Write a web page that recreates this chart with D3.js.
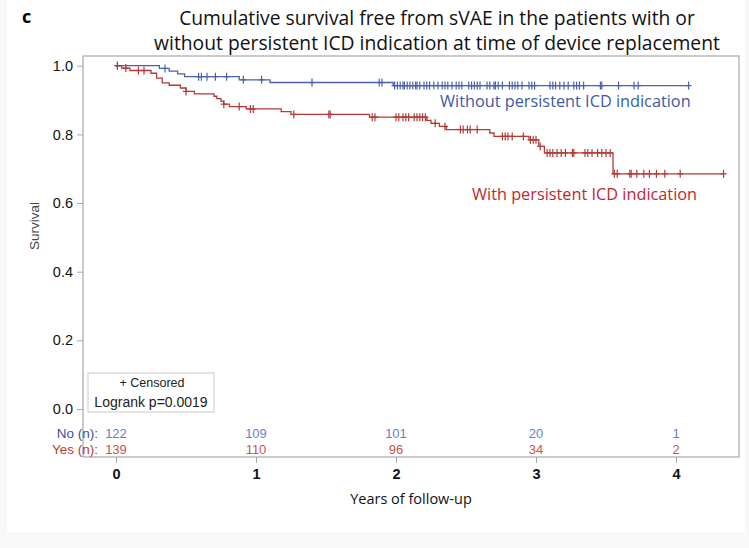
<!DOCTYPE html>
<html>
<head>
<meta charset="utf-8">
<script src="https://cdn.jsdelivr.net/npm/d3@7"></script>
<style>
  body { margin: 0; background: #f8f8f8; }
  svg { display: block; }
</style>
</head>
<body>
<div id="chart"></div>
<script>
// tick labels
var years = [0, 1, 2, 3, 4];
var survTicks = [0, 0.2, 0.4, 0.6, 0.8, 1.0];

// without persistent ICD indication (No)
var noEventTimes = [0.31, 0.38, 0.44, 0.49, 0.88, 1.10, 1.98];
var noSurv       = [0.992, 0.984, 0.976, 0.968, 0.959, 0.951, 0.942];
var noLastTime = 4.09;
var noCensored = [0.01, 0.35, 0.59, 0.61, 0.65, 0.71, 0.79, 0.91, 1.04, 1.40, 1.88, 1.90,
                  1.99, 2.01, 2.03, 2.05, 2.06, 2.08, 2.10, 2.12, 2.14, 2.15, 2.17, 2.20,
                  2.22, 2.24, 2.27, 2.30, 2.33, 2.35, 2.37, 2.40, 2.43, 2.45, 2.47, 2.52,
                  2.54, 2.56, 2.58, 2.60, 2.65, 2.67, 2.70, 2.71, 2.73, 2.76, 2.81, 2.83,
                  2.85, 2.87, 2.90, 2.95, 2.97, 2.99, 3.10, 3.12, 3.14, 3.17, 3.20, 3.23,
                  3.27, 3.29, 3.31, 3.34, 3.46, 3.47, 3.59, 3.70, 3.73, 4.09];

// with persistent ICD indication (Yes)
var yesEventTimes = [0.04, 0.10, 0.25, 0.29, 0.33, 0.38, 0.46, 0.50, 0.56, 0.70, 0.72, 0.75,
                     0.77, 0.81, 0.93, 1.18, 1.25, 1.81, 2.22, 2.25, 2.31, 2.36, 2.67, 2.70,
                     2.95, 3.02, 3.06, 3.55];
var yesSurv       = [0.993, 0.986, 0.978, 0.964, 0.950, 0.943, 0.935, 0.925, 0.918, 0.911, 0.904, 0.896,
                     0.888, 0.881, 0.874, 0.866, 0.858, 0.850, 0.841, 0.832, 0.823, 0.814, 0.804, 0.794,
                     0.784, 0.765, 0.746, 0.685];
var yesLastTime = 4.34;
var yesCensored = [0.01, 0.07, 0.16, 0.20, 0.50, 0.77, 0.88, 0.96, 0.98, 1.27, 1.52, 1.53,
                   1.83, 1.85, 2.00, 2.02, 2.05, 2.07, 2.09, 2.13, 2.15, 2.17, 2.19, 2.21,
                   2.28, 2.35, 2.46, 2.48, 2.51, 2.53, 2.58, 2.76, 2.78, 2.80, 2.83, 2.91,
                   2.96, 2.98, 3.00, 3.03, 3.08, 3.10, 3.12, 3.15, 3.18, 3.21, 3.26, 3.27,
                   3.35, 3.37, 3.40, 3.44, 3.47, 3.50, 3.53, 3.56, 3.58, 3.67, 3.68, 3.72,
                   3.77, 3.81, 3.86, 3.92, 4.03, 4.34];

// numbers at risk
var atRiskNo  = [122, 109, 101, 20, 1];
var atRiskYes = [139, 110, 96, 34, 2];

var width = 749, height = 548;
var blue = "#4a62aa", red = "#b33a36";

var svg = d3.select("#chart")
            .append("svg")
            .attr("width", width)
            .attr("height", height)

svg.append("rect").attr("x", 7).attr("y", 0).attr("width", 738).attr("height", 532).attr("fill", "#fff")

var frame = {left: 83, right: 739, top: 56, bottom: 457}

var x = d3.scaleLinear().domain([0, 4]).range([116, 676])
var y = d3.scaleLinear().domain([0, 1]).range([409, 65.7])

// title
svg.append("text").attr("x", 22).attr("y", 23)
    .text("c")
    .style("font-family", "Open Sans, sans-serif").style("font-weight", "bold").style("font-size", "18px")

var title = ["Cumulative survival free from sVAE in the patients with or",
             "without persistent ICD indication at time of device replacement"]
svg.selectAll(".title").data(title).enter()
    .append("text")
    .attr("x", 437)
    .attr("y", (d, i) => 25 + i * 25)
    .attr("text-anchor", "middle")
    .text(d => d)
    .style("font-family", "Open Sans, sans-serif")
    .style("font-size", "19.3px")
    .style("fill", "#111")

// frame
svg.append("rect")
    .attr("x", frame.left).attr("y", frame.top)
    .attr("width", frame.right - frame.left).attr("height", frame.bottom - frame.top)
    .attr("fill", "none").attr("stroke", "#a8a8a8").attr("stroke-width", 1.2)

// axes
var yAxis = svg.append("g")
    .attr("transform", "translate(" + frame.left + ",0)")
    .call(d3.axisLeft(y).tickValues(survTicks).tickFormat(d3.format(".1f")).tickSize(6).tickPadding(4))
yAxis.select(".domain").remove()

var xAxis = svg.append("g")
    .attr("transform", "translate(0," + frame.bottom + ")")
    .call(d3.axisBottom(x).tickValues(years).tickFormat(d3.format("d")).tickSize(6).tickPadding(6))
xAxis.select(".domain").remove()

svg.selectAll(".tick line").attr("stroke", "#aaa")
svg.selectAll(".tick text")
    .style("font-family", "Liberation Sans, Arial, sans-serif")
    .style("font-size", "14.5px")
    .style("fill", "#111")
xAxis.selectAll(".tick text").style("font-weight", "bold")

svg.append("text")
    .attr("transform", "translate(39,226) rotate(-90)")
    .attr("text-anchor", "middle")
    .text("Survival")
    .style("font-family", "Liberation Sans, Arial, sans-serif")
    .style("font-size", "13.5px")
    .style("fill", "#444")

svg.append("text")
    .attr("x", 411).attr("y", 504)
    .attr("text-anchor", "middle")
    .text("Years of follow-up")
    .style("font-family", "Open Sans, sans-serif")
    .style("font-size", "14.5px")
    .style("fill", "#111")

// survival curves
function steps(times, surv, last) {
    var pts = [[0, 1]]
    times.forEach((t, i) => pts.push([t, surv[i]]))
    pts.push([last, surv[surv.length - 1]])
    return pts
}
function survAt(times, surv, t) {
    var s = 1
    times.forEach((e, i) => { if (e <= t) s = surv[i] })
    return s
}

var line = d3.line()
    .x(d => x(d[0]))
    .y(d => y(d[1]))
    .curve(d3.curveStepAfter)

var groups = [
    {times: noEventTimes, surv: noSurv, last: noLastTime, cens: noCensored, color: blue},
    {times: yesEventTimes, surv: yesSurv, last: yesLastTime, cens: yesCensored, color: red}
]

groups.forEach(g => {
    svg.append("path")
        .attr("d", line(steps(g.times, g.surv, g.last)))
        .attr("fill", "none")
        .attr("stroke", g.color)
        .attr("stroke-width", 1.3)

    var marks = svg.append("g").selectAll("g")
        .data(g.cens)
        .enter()
        .append("g")
        .attr("transform", d => "translate(" + x(d) + "," + y(survAt(g.times, g.surv, d)) + ")")
    marks.append("line").attr("x1", 0).attr("x2", 0).attr("y1", -4).attr("y2", 4)
        .attr("stroke", g.color).attr("stroke-width", 1.2)
    marks.append("line").attr("x1", -3).attr("x2", 3).attr("y1", 0).attr("y2", 0)
        .attr("stroke", g.color).attr("stroke-width", 1.2)
})

// curve labels
svg.append("text").attr("x", 440).attr("y", 107)
    .text("Without persistent ICD indication")
    .style("font-family", "Open Sans, sans-serif").style("font-size", "16.3px").style("fill", "#3c5aa6")
svg.append("text").attr("x", 472).attr("y", 200)
    .text("With persistent ICD indication")
    .style("font-family", "Open Sans, sans-serif").style("font-size", "16.3px").style("fill", "#c0272d")

// legend box
svg.append("rect").attr("x", 88).attr("y", 373).attr("width", 126).attr("height", 39)
    .attr("fill", "#fff").attr("stroke", "#c8c8c8")
svg.append("text").attr("x", 152).attr("y", 387).attr("text-anchor", "middle")
    .text("+ Censored")
    .style("font-family", "Liberation Sans, Arial, sans-serif").style("font-size", "12.5px").style("fill", "#222")
svg.append("text").attr("x", 151).attr("y", 407).attr("text-anchor", "middle")
    .text("Logrank p=0.0019")
    .style("font-family", "Liberation Sans, Arial, sans-serif").style("font-size", "14px").style("fill", "#222")

// at-risk table
var riskRows = [
    {label: "No (n):", values: atRiskNo, y: 438, color: "#6c7fc0", labelColor: "#3d4f9e"},
    {label: "Yes (n):", values: atRiskYes, y: 454, color: "#c55450", labelColor: "#c0392f"}
]
riskRows.forEach(r => {
    svg.append("text").attr("x", 98).attr("y", r.y).attr("text-anchor", "end")
        .text(r.label)
        .style("font-family", "Liberation Sans, Arial, sans-serif").style("font-size", "13.5px")
        .style("fill", r.labelColor)
    svg.append("g").selectAll("text")
        .data(r.values)
        .enter()
        .append("text")
        .attr("x", (d, i) => x(years[i]))
        .attr("y", r.y)
        .attr("text-anchor", "middle")
        .text(d => d)
        .style("font-family", "Liberation Sans, Arial, sans-serif").style("font-size", "13px")
        .style("fill", r.color)
})
</script>
</body>
</html>
